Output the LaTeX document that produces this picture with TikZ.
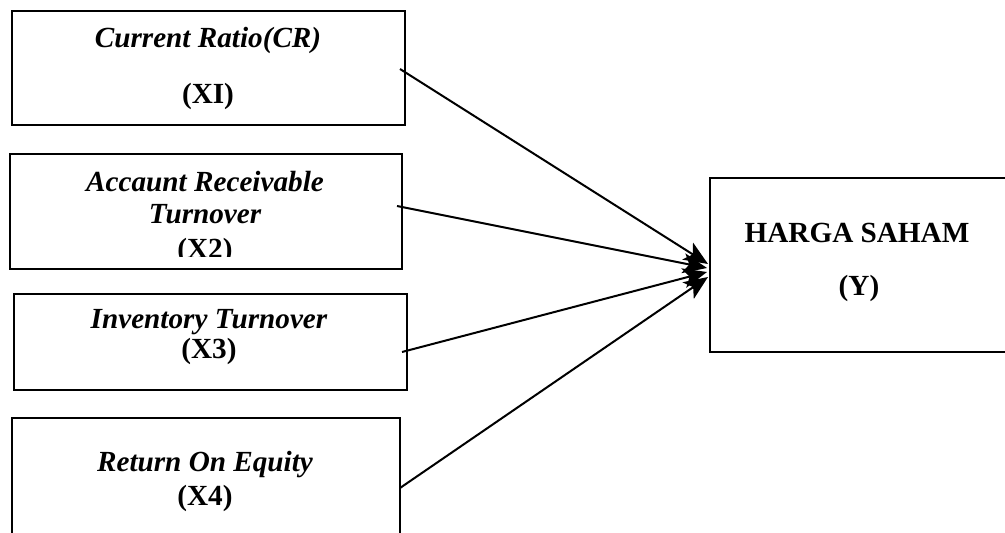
\documentclass[tikz,border=0pt]{standalone}
\usepackage{fontspec}
\setmainfont{Liberation Serif}
\usetikzlibrary{arrows.meta}
\tikzset{
  varbox/.style={draw, line width=1pt, inner sep=0pt},
  vartext/.style={font=\fontsize{14.6}{16}\selectfont\bfseries\itshape, anchor=base, inner sep=0pt},
  codetext/.style={font=\fontsize{14.6}{16}\selectfont\bfseries, anchor=base, inner sep=0pt},
  pengaruh/.style={line width=1pt, -{Stealth[length=12pt,width=10pt,inset=3pt]}}
}
\begin{document}
\begin{tikzpicture}[x=0.5pt,y=-0.5pt]
    \useasboundingbox (0,0) rectangle (1005,533);
    % Boxes
    \node[varbox, line width=1.2pt, minimum width=196.5pt, minimum height=57pt] (cr) at (208.5,68) {};
    \node[varbox, minimum width=196pt, minimum height=57.5pt] (ar) at (206,211.5) {};
    \node[varbox, minimum width=196.5pt, minimum height=48pt] (it) at (210.5,342) {};
    \node[varbox, line width=0.8pt, minimum width=194pt, minimum height=71pt] (roe) at (206,489) {};
    \node[varbox, minimum width=150pt, minimum height=87pt] (hs) at (860,265) {};
    % Texts
    \node[vartext] (cr1) at (208,48) {Current Ratio(CR)};
    \node[codetext] (cr2) at (208,104) {(XI)};
    \node[vartext] (ar1) at (205,192) {Accaunt Receivable};
    \node[vartext] (ar2) at (205,224) {Turnover};
    \begin{scope}
        \clip (10,154) rectangle (402,257);
        \node[codetext] (ar3) at (205,259) {(X2)};
    \end{scope}
    \node[vartext] (it1) at (209,329) {Inventory Turnover};
    \node[codetext] (it2) at (209,359) {(X3)};
    \node[vartext] (roe1) at (205,472) {Return On Equity};
    \node[codetext] (roe2) at (205,505) {(X4)};
    \node[codetext] (hs1) at (857,243) {HARGA SAHAM};
    \node[codetext] (hs2) at (859,296) {(Y)};
    % Arrow ends
    \coordinate (s1) at (400,69);
    \coordinate (s2) at (397,206);
    \coordinate (s3) at (402,352);
    \coordinate (s4) at (400,488);
    \coordinate (t1) at (708,264);
    \coordinate (t2) at (707,268);
    \coordinate (t3) at (707,272);
    \coordinate (t4) at (708,277);
    % Arrows
    \draw[pengaruh] (s1) -- (t1);
    \draw[pengaruh] (s2) -- (t2);
    \draw[pengaruh] (s3) -- (t3);
    \draw[pengaruh] (s4) -- (t4);
\end{tikzpicture}
\end{document}
